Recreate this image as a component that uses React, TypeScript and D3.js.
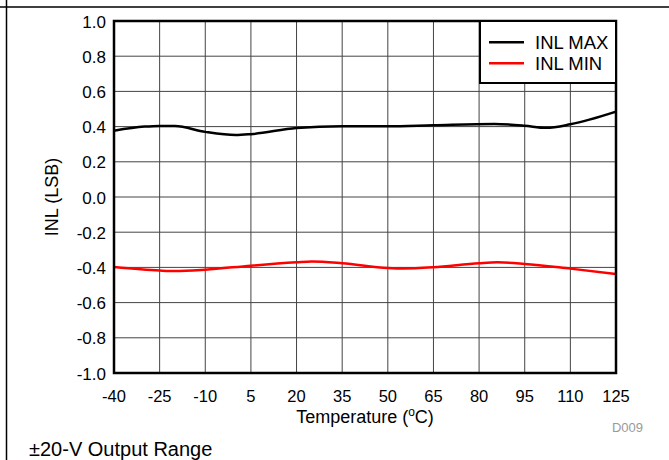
import { useEffect, useRef } from 'react';
import * as d3 from 'd3';

const xTicks = [-40, -25, -10, 5, 20, 35, 50, 65, 80, 95, 110, 125];
const yTicks = [-1.0, -0.8, -0.6, -0.4, -0.2, 0.0, 0.2, 0.4, 0.6, 0.8, 1.0];

// INL MAX
const maxTemps = [-40, -30, -25, -20, -10, 0, 5, 20, 35, 50, 65, 85, 95, 102, 110, 125];
const maxValues = [0.377, 0.4, 0.404, 0.403, 0.37, 0.352, 0.357, 0.392, 0.402, 0.402, 0.408, 0.415, 0.405, 0.393, 0.413, 0.485];

// INL MIN
const minTemps = [-40, -25, -20, -10, 5, 20, 25, 35, 50, 55, 65, 80, 86, 95, 110, 125];
const minValues = [-0.398, -0.418, -0.421, -0.413, -0.39, -0.371, -0.366, -0.376, -0.403, -0.406, -0.399, -0.376, -0.371, -0.38, -0.407, -0.437];

const seriesNames = ['INL MAX', 'INL MIN'];
const seriesColors = ['#000000', '#ff0000'];

export default function App() {
  const svgRef = useRef<SVGSVGElement>(null);

  useEffect(() => {
    if (!svgRef.current) return;
    const svg = d3.select(svgRef.current);
    svg.selectAll('*').remove();

    const left = 114, top = 21, right = 616, bottom = 373;
    const font = 'Liberation Sans, Arial, sans-serif';

    const x = d3.scaleLinear().domain([-40, 125]).range([left, right]);
    const y = d3.scaleLinear().domain([-1, 1]).range([bottom, top]);

    // outer frame lines
    svg.append('line').attr('x1', 0).attr('x2', 669).attr('y1', 7).attr('y2', 7)
      .attr('stroke', '#000').attr('stroke-width', 1.5);
    svg.append('line').attr('x1', 6.5).attr('x2', 6.5).attr('y1', 0).attr('y2', 460)
      .attr('stroke', '#000').attr('stroke-width', 1.5);

    // Grid
    const grid = svg.append('g');
    grid.selectAll('.vg').data(xTicks).enter().append('line')
      .attr('x1', d => x(d)).attr('x2', d => x(d))
      .attr('y1', top).attr('y2', bottom)
      .attr('stroke', '#444').attr('stroke-width', 1);
    grid.selectAll('.hg').data(yTicks).enter().append('line')
      .attr('x1', left).attr('x2', right)
      .attr('y1', d => y(d)).attr('y2', d => y(d))
      .attr('stroke', '#444').attr('stroke-width', 1);

    // Tick labels
    svg.append('g').selectAll('text').data(xTicks).enter().append('text')
      .attr('x', d => x(d)).attr('y', 402)
      .attr('text-anchor', 'middle')
      .style('font-family', font).style('font-size', '16.5px')
      .text(d => String(d));
    svg.append('g').selectAll('text').data(yTicks).enter().append('text')
      .attr('x', 106).attr('y', d => y(d) + 6.5)
      .attr('text-anchor', 'end')
      .style('font-family', font).style('font-size', '17px')
      .text(d => d.toFixed(1));

    // Axis titles
    const xt = svg.append('text')
      .attr('x', x(42.5)).attr('y', 423)
      .attr('text-anchor', 'middle')
      .style('font-family', font).style('font-size', '18px');
    xt.append('tspan').text('Temperature (');
    xt.append('tspan').attr('dy', -7).style('font-size', '12px').text('o');
    xt.append('tspan').attr('dy', 7).text('C)');

    svg.append('text')
      .attr('transform', `translate(57.5,${y(0)}) rotate(-90)`)
      .attr('text-anchor', 'middle')
      .style('font-family', font).style('font-size', '18px')
      .text('INL (LSB)');

    svg.append('text')
      .attr('x', 643).attr('y', 432)
      .attr('text-anchor', 'end')
      .attr('fill', '#999')
      .style('font-family', font).style('font-size', '13px')
      .text('D009');

    svg.append('text')
      .attr('x', 29).attr('y', 456)
      .style('font-family', font).style('font-size', '20px')
      .text('±20-V Output Range');

    // Series
    const line = d3.line<[number, number]>()
      .x(d => x(d[0])).y(d => y(d[1]))
      .curve(d3.curveMonotoneX);

    const series: [number, number][][] = [
      maxTemps.map((t, i) => [t, maxValues[i]]),
      minTemps.map((t, i) => [t, minValues[i]]),
    ];
    series.forEach((s, i) => {
      svg.append('path').datum(s)
        .attr('fill', 'none')
        .attr('stroke', seriesColors[i])
        .attr('stroke-width', 2.5)
        .attr('d', line);
    });

    // Plot border
    svg.append('rect')
      .attr('x', left).attr('y', top)
      .attr('width', right - left).attr('height', bottom - top)
      .attr('fill', 'none').attr('stroke', '#000').attr('stroke-width', 2.5);

    // Legend
    const lg = svg.append('g');
    lg.append('rect')
      .attr('x', 480).attr('y', top).attr('width', right - 480).attr('height', 62)
      .attr('fill', '#fff').attr('stroke', '#000').attr('stroke-width', 2);
    seriesNames.forEach((name, i) => {
      const ly = 42.3 + i * 21;
      lg.append('line')
        .attr('x1', 489).attr('x2', 524).attr('y1', ly).attr('y2', ly)
        .attr('stroke', seriesColors[i]).attr('stroke-width', 2.5);
      lg.append('text')
        .attr('x', 535).attr('y', ly + 6.7)
        .style('font-family', font).style('font-size', '18.5px')
        .text(name);
    });
  }, []);

  return (
    <svg
      ref={svgRef}
      width={669}
      height={460}
      style={{ position: 'absolute', left: 0, top: 0, background: '#fff' }}
    />
  );
}
